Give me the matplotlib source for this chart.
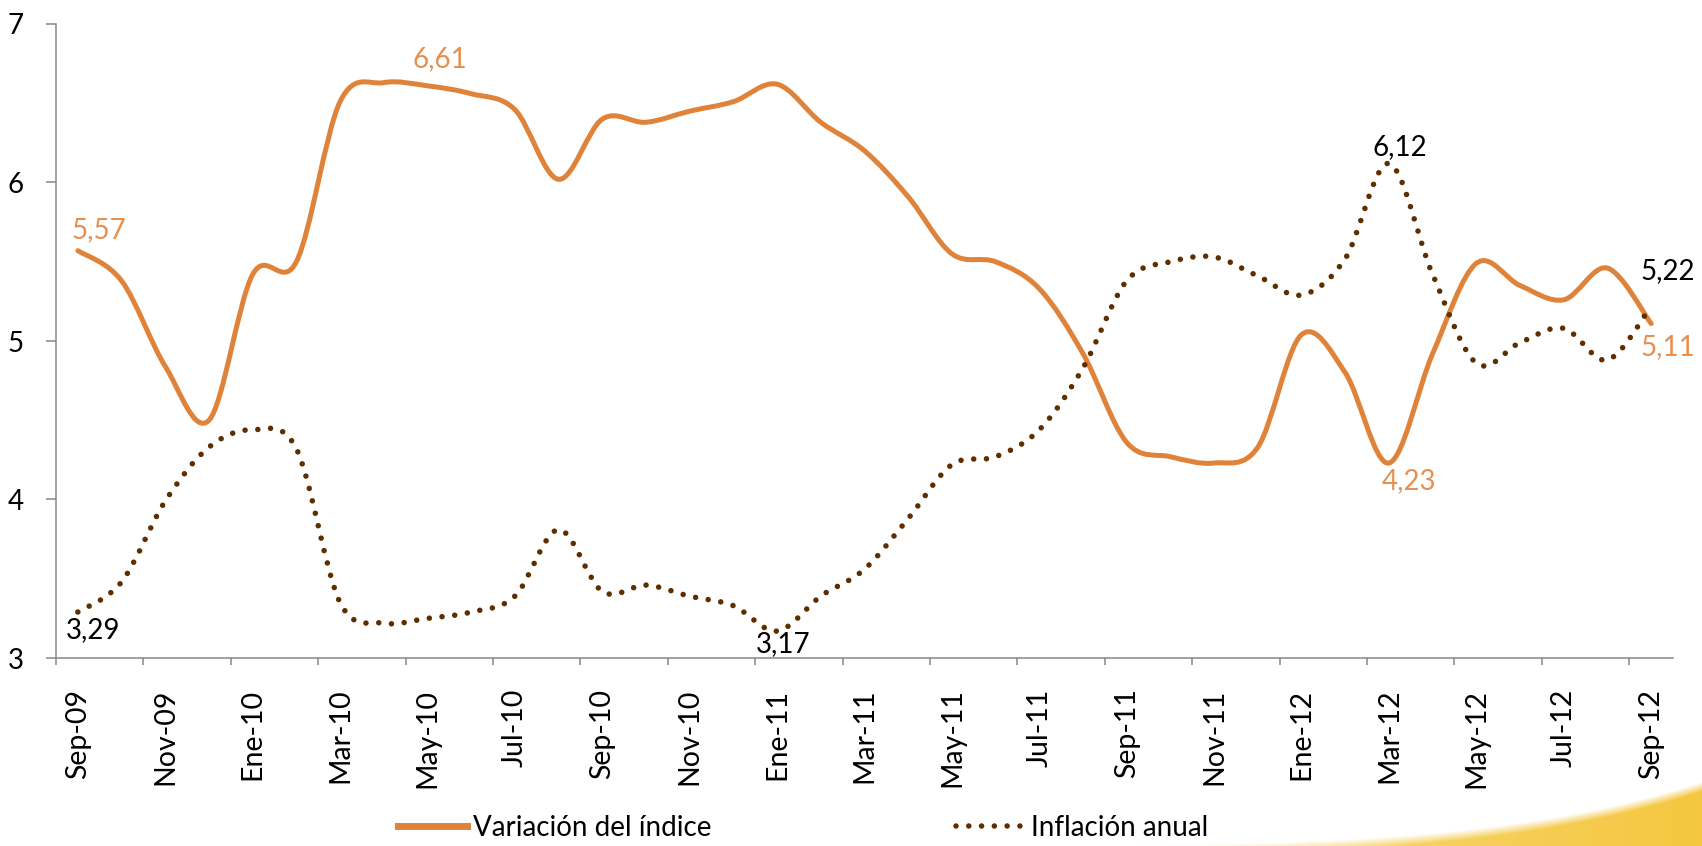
import numpy as np
import matplotlib.pyplot as plt
from matplotlib.path import Path
from matplotlib.patches import PathPatch
from matplotlib.lines import Line2D

plt.rcParams['font.family'] = ['Lato', 'DejaVu Sans']

# months Sep-09 .. Sep-12
meses = ['Sep-09', 'Oct-09', 'Nov-09', 'Dic-09', 'Ene-10', 'Feb-10', 'Mar-10', 'Abr-10',
         'May-10', 'Jun-10', 'Jul-10', 'Ago-10', 'Sep-10', 'Oct-10', 'Nov-10', 'Dic-10',
         'Ene-11', 'Feb-11', 'Mar-11', 'Abr-11', 'May-11', 'Jun-11', 'Jul-11', 'Ago-11',
         'Sep-11', 'Oct-11', 'Nov-11', 'Dic-11', 'Ene-12', 'Feb-12', 'Mar-12', 'Abr-12',
         'May-12', 'Jun-12', 'Jul-12', 'Ago-12', 'Sep-12']

variacion = [5.57, 5.38, 4.84, 4.50, 5.42, 5.50, 6.51, 6.63, 6.61, 6.56,
             6.46, 6.02, 6.40, 6.38, 6.45, 6.51, 6.62, 6.38, 6.20, 5.91,
             5.55, 5.50, 5.33, 4.92, 4.36, 4.27, 4.23, 4.33, 5.04, 4.80,
             4.23, 4.92, 5.49, 5.35, 5.26, 5.46, 5.11]

inflacion = [3.29, 3.48, 3.99, 4.33, 4.44, 4.32, 3.35, 3.22, 3.25, 3.29,
             3.39, 3.81, 3.42, 3.46, 3.39, 3.33, 3.17, 3.39, 3.56, 3.88,
             4.22, 4.27, 4.44, 4.83, 5.38, 5.50, 5.53, 5.41, 5.29, 5.52,
             6.12, 5.42, 4.86, 4.99, 5.08, 4.88, 5.22]

# labelled points: (index, text, offset in pixels)
etiquetas_var = [(0, '5,57', (21, 21)), (8, '6,61', (12, 27)),
                 (30, '4,23', (20, -18)), (36, '5,11', (17, -23))]
etiquetas_inf = [(0, '3,29', (15, -18)), (16, '3,17', (6, -13)),
                 (30, '6,12', (11, 16)), (36, '5,22', (17, 35))]

naranja = '#E0833A'
naranja_txt = '#E69050'
marron = '#5E2E00'
gris = '#868686'


def smooth_path(y):
    # Excel-like smoothed line: cubic bezier through the points
    pts = np.column_stack([np.arange(len(y)), np.asarray(y, dtype=float)])
    verts = [pts[0]]
    codes = [Path.MOVETO]
    n = len(pts)
    for i in range(n - 1):
        p0 = pts[i - 1] if i > 0 else pts[i]
        p3 = pts[i + 2] if i + 2 < n else pts[i + 1]
        c1 = pts[i] + (pts[i + 1] - p0) / 6
        c2 = pts[i + 1] - (p3 - pts[i]) / 6
        verts += [c1, c2, pts[i + 1]]
        codes += [Path.CURVE4] * 3
    return Path(verts, codes)


fig = plt.figure(figsize=(17.02, 8.46), dpi=100)

# yellow swoosh in the bottom right corner
bg = fig.add_axes([0, 0, 1, 1], zorder=-1)
H, W = 846, 1702
yy, xx = np.mgrid[0:H, 0:W]
t = np.clip((xx - 700) / 1002, 0, None)
edge = 846 - 65 * t ** 5
a = np.clip((yy - edge) / 10, 0, 1) * np.clip(t * 1.6, 0, 1)
img = np.ones((H, W, 4))
mix = np.clip(t, 0, 1)[..., None]
c_pale = np.array([0.99, 0.93, 0.70])
c_deep = np.array([0.96, 0.78, 0.25])
img[..., :3] = c_pale * (1 - mix) + c_deep * mix
img[..., 3] = a
bg.imshow(img, extent=(0, W, H, 0), aspect='auto', interpolation='bilinear')
bg.set_xlim(0, W)
bg.set_ylim(H, 0)
bg.axis('off')

ax = fig.add_axes([56 / 1702, 1 - 658 / 846, 1617 / 1702, 634 / 846])

ax.add_patch(PathPatch(smooth_path(variacion), fill=False, edgecolor=naranja,
                       lw=3.6, capstyle='round', joinstyle='round'))
ax.add_patch(PathPatch(smooth_path(inflacion), fill=False, edgecolor=marron,
                       lw=4.0, linestyle=(0, (0.001, 2.3)), capstyle='round'))

for i, txt, off in etiquetas_var:
    ax.annotate(txt, (i, variacion[i]), xytext=off, textcoords='offset pixels',
                ha='center', va='center', fontsize=20, color=naranja_txt)
for i, txt, off in etiquetas_inf:
    ax.annotate(txt, (i, inflacion[i]), xytext=off, textcoords='offset pixels',
                ha='center', va='center', fontsize=20, color='black')

ax.set_xlim(-0.5, 36.5)
ax.set_ylim(3, 7)
ax.set_yticks([3, 4, 5, 6, 7])
ax.tick_params(axis='y', direction='out', length=7, width=1.1, color=gris,
               labelsize=20, pad=16)

ax.set_xticks(np.arange(-0.5, 36, 2))
ax.set_xticklabels([])
ax.set_xticks(np.arange(0, 37, 2), minor=True)
ax.set_xticklabels(meses[::2], minor=True, rotation=90)
ax.tick_params(axis='x', which='major', direction='out', length=5, width=1.1, color=gris)
ax.tick_params(axis='x', which='minor', length=0, labelsize=20.5, pad=22)

for s in ['top', 'right']:
    ax.spines[s].set_visible(False)
for s in ['left', 'bottom']:
    ax.spines[s].set_color(gris)
    ax.spines[s].set_linewidth(1.1)
ax.set_facecolor('none')

h1 = Line2D([], [], color=naranja, lw=5)
h2 = Line2D([], [], color=marron, lw=4.0, linestyle=(0, (0.001, 2.3)),
            dash_capstyle='round')
fig.legend([h1], ['Variación del índice'], loc='center left',
           bbox_to_anchor=(398 / 1702, 1 - 828 / 846), frameon=False, fontsize=20,
           handlelength=2.5, handletextpad=0.2, borderpad=0, borderaxespad=0)
fig.legend([h2], ['Inflación anual'], loc='center left',
           bbox_to_anchor=(956 / 1702, 1 - 828 / 846), frameon=False, fontsize=20,
           handlelength=2.5, handletextpad=0.2, borderpad=0, borderaxespad=0)

fig.savefig('out.png', dpi=100)
